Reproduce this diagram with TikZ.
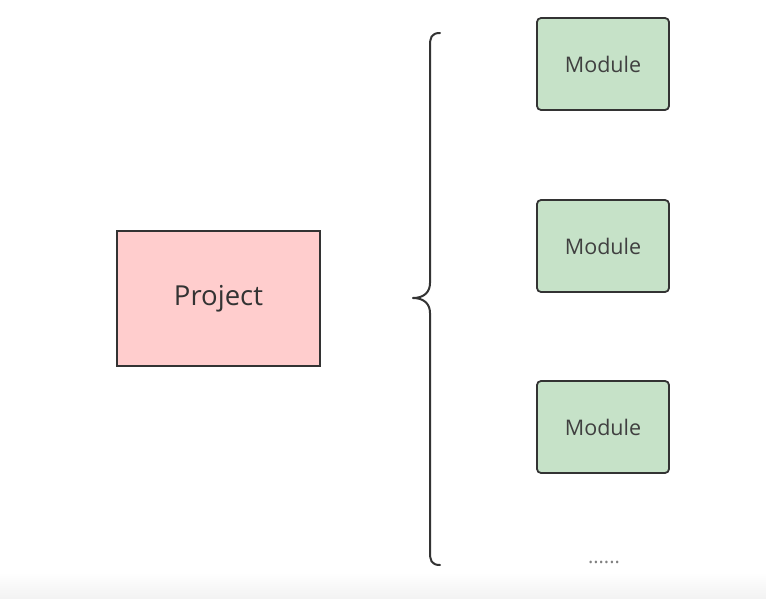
\documentclass[tikz,border=0pt]{standalone}
\usepackage{fontspec}
\setmainfont{Open Sans}
\begin{document}
\begin{tikzpicture}[x=1pt,y=-1pt,
  proj/.style={draw=black!80,line width=1.8pt,fill=pinkfill,minimum width=203pt,minimum height=135pt,inner sep=0pt,font=\fontsize{27.5}{32}\selectfont,text=black!80},
  modbox/.style={draw=black!80,line width=1.8pt,fill=greenfill,rounded corners=4pt,minimum width=132pt,minimum height=92pt,inner sep=0pt,font=\fontsize{21.5}{26}\selectfont,text=black!75},
  bracepath/.style={draw=black!80,line width=2pt,line cap=round,line join=round}]
\definecolor{pinkfill}{HTML}{FFCDCD}
\definecolor{greenfill}{HTML}{C6E2C8}
\useasboundingbox (0,0) rectangle (766,599);
\shade[top color=white,bottom color=black!5] (0,572) rectangle (766,599);
\node[proj] (p) at (218.5,298.5) {Project};
\node[modbox] (m1) at (603,64) {Module};
\node[modbox] (m2) at (603,246) {Module};
\node[modbox] (m3) at (603,427) {Module};
\node[text=black!50,font=\fontsize{20}{22}\selectfont] (dots) at (604,562) {......};
\coordinate (bt) at (440,33);
\coordinate (bb) at (440,565);
\coordinate (tip) at (413,298);
\draw[bracepath] (bt) .. controls (431,33) and (430,38) .. (430,46) -- (430,283) .. controls (430,292) and (424,298) .. (tip) .. controls (424,298) and (430,304) .. (430,313) -- (430,552) .. controls (430,560) and (431,565) .. (bb);
\end{tikzpicture}
\end{document}
